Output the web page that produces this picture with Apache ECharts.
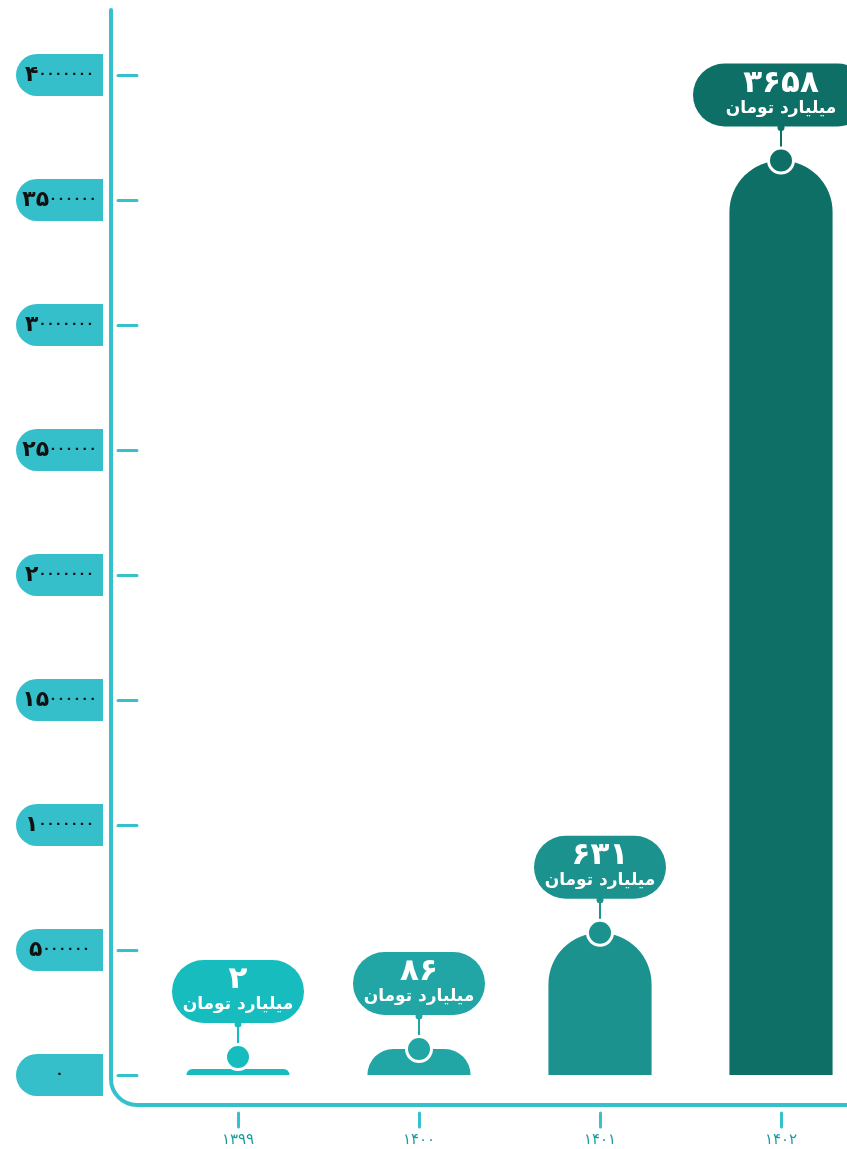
<!DOCTYPE html>
<html>
<head>
<meta charset="utf-8">
<script src="https://cdn.jsdelivr.net/npm/echarts@6/dist/echarts.min.js"></script>
<style>
  html, body { margin: 0; padding: 0; background: #fff; }
  #main { width: 847px; height: 1149px; }
</style>
</head>
<body>
<div id="main"></div>
<script>
// years on the x axis
var years = ['۱۳۹۹', '۱۴۰۰', '۱۴۰۱', '۱۴۰۲'];
// bar heights
var values = [240000, 1040000, 5690000, 36580000];
// numbers printed in the bubbles
var bubbleLabels = ['۲', '۸۶', '۶۳۱', '۳۶۵۸'];
var unitText = 'میلیارد تومان';
// y ticks
var yMax = 40000000;
var yStep = 5000000;

var barColors = ['#17bcbe', '#22a6a5', '#1b928e', '#0e6f66'];
var axisColor = '#35c1cc';
var faFont = '"DejaVu Sans", sans-serif';

function toFa(v) {
  return String(v).replace(/\d/g, function (d) { return '۰۱۲۳۴۵۶۷۸۹'[d]; });
}

// big leading digits, small trailing zeros like the original font
function yLabel(v) {
  var s = String(v);
  var m = s.match(/^(.*?)(0*)$/);
  var head = m[1], zeros = m[2];
  if (!head) return '{z|' + toFa(zeros) + '}';
  return '{d|' + toFa(head) + '}' + (zeros ? '{z|' + toFa(zeros) + '}' : '');
}

var chart = echarts.init(document.getElementById('main'));

function renderBar(params, api) {
  var i = params.dataIndex;
  var top = api.coord([api.value(0), api.value(1)]);
  var base = api.coord([api.value(0), 0]);
  var bw = api.size([1, 0])[0] * 0.57;
  var x = top[0];
  var yTop = top[1];
  var y0 = base[1];
  var h = y0 - yTop;
  var r = Math.min(bw / 2, h);
  var dotY = Math.min(yTop, y0 - 18);
  var pillH = 63;
  var pillW = bubbleLabels[i].length > 3 ? 176 : 132;
  var pillTop = dotY - 97;
  var c = barColors[i];
  return {
    type: 'group',
    children: [
      {
        type: 'rect',
        shape: { x: x - bw / 2, y: yTop, width: bw, height: h, r: [r, r, 0, 0] },
        style: { fill: c }
      },
      {
        type: 'line',
        shape: { x1: x, y1: pillTop + pillH, x2: x, y2: dotY },
        style: { stroke: c, lineWidth: 2 }
      },
      {
        type: 'circle',
        shape: { cx: x, cy: pillTop + pillH + 1, r: 3.5 },
        style: { fill: c }
      },
      {
        type: 'circle',
        shape: { cx: x, cy: dotY, r: 12.5 },
        style: { fill: c, stroke: '#fff', lineWidth: 3 }
      },
      {
        type: 'rect',
        shape: { x: x - pillW / 2, y: pillTop, width: pillW, height: pillH, r: pillH / 2 },
        style: { fill: c }
      },
      {
        type: 'text',
        style: {
          text: bubbleLabels[i], x: x, y: pillTop + 20,
          align: 'center', verticalAlign: 'middle',
          fill: '#fff', font: 'bold 31px ' + faFont
        }
      },
      {
        type: 'text',
        style: {
          text: unitText, x: x, y: pillTop + 45,
          align: 'center', verticalAlign: 'middle',
          fill: '#fff', font: 'bold 17px ' + faFont
        }
      }
    ]
  };
}

var frameStyle = { stroke: axisColor, lineWidth: 4, lineCap: 'round', fill: null };

var option = {
  animation: false,
  grid: { left: 147.5, width: 724, top: 75, bottom: 74, containLabel: false, outerBoundsMode: 'none' },
  xAxis: [{
    type: 'category',
    data: years,
    position: 'bottom',
    offset: 38,
    axisLine: { show: false, onZero: false },
    axisTick: { show: true, alignWithLabel: true, length: 14, lineStyle: { color: axisColor, width: 3, cap: 'round' } },
    axisLabel: { margin: 20, color: '#1d9ba3', fontSize: 15, fontFamily: faFont }
  }],
  yAxis: [{
    type: 'value',
    position: 'left',
    min: 0,
    max: yMax,
    interval: yStep,
    offset: 36.5,
    splitLine: { show: false },
    axisLine: { show: false, onZero: false },
    axisTick: { show: false },
    axisLabel: {
      margin: 8,
      width: 87,
      height: 42,
      lineHeight: 42,
      backgroundColor: '#35bfca',
      borderRadius: [21, 0, 0, 21],
      padding: 0,
      formatter: yLabel,
      rich: {
        d: { align: 'center', color: '#111', fontSize: 22, fontWeight: 'bold', fontFamily: faFont, lineHeight: 42 },
        z: { align: 'center', color: '#111', fontSize: 13, fontWeight: 'bold', fontFamily: faFont, lineHeight: 42 }
      }
    }
  }, {
    type: 'value',
    position: 'left',
    min: 0,
    max: yMax,
    interval: yStep,
    offset: 10.5,
    splitLine: { show: false },
    axisLine: { show: false, onZero: false },
    axisLabel: { show: false },
    axisTick: { show: true, length: 19, lineStyle: { color: axisColor, width: 3, cap: 'round' } }
  }],
  // axis frame: vertical line, rounded corner, horizontal line
  graphic: [{
    type: 'line',
    shape: { x1: 111, y1: 10, x2: 111, y2: 1079 },
    style: frameStyle
  }, {
    type: 'arc',
    shape: { cx: 137, cy: 1079, r: 26, startAngle: Math.PI / 2, endAngle: Math.PI, clockwise: true },
    style: frameStyle
  }, {
    type: 'line',
    shape: { x1: 137, y1: 1105, x2: 860, y2: 1105 },
    style: frameStyle
  }],
  series: [{
    type: 'custom',
    renderItem: renderBar,
    encode: { x: 0, y: 1 },
    data: values.map(function (v, i) { return [i, v]; }),
    z: 5
  }]
};

chart.setOption(option);
</script>
</body>
</html>
